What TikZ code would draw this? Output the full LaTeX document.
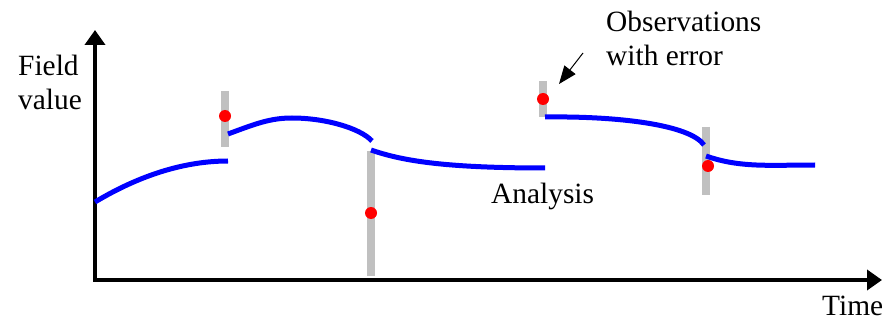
\documentclass[tikz,border=0pt]{standalone}
\usepackage{fontspec}
\setmainfont{Liberation Serif}
\usetikzlibrary{arrows.meta}
\definecolor{barg}{RGB}{192,192,192}
\definecolor{curveb}{RGB}{0,0,255}
\definecolor{dotr}{RGB}{255,0,0}
\tikzset{
  axisline/.style={line width=4pt,-{Triangle[length=15pt,width=20pt]}},
  bar/.style={barg,line width=8pt},
  fc/.style={curveb,line width=5pt},
  obsdot/.style={fill=dotr,draw=none},
  lbl/.style={font=\fontsize{29.4}{34}\selectfont,anchor=base west,inner sep=0pt,align=left},
  pointer/.style={line width=1pt,-{Triangle[length=18pt,width=14pt]}}
}
\begin{document}
\begin{tikzpicture}[x=1pt,y=-1pt]
\useasboundingbox (0,0) rectangle (885,323);
% axes
\coordinate (o) at (95,280);
\coordinate (ytop) at (95,30);
\coordinate (xend) at (882,280);
\draw[axisline] (95,278) -- (ytop);
\draw[axisline] (93,280) -- (xend);
% gray error bars
\draw[bar] (225,91) -- (225,147);
\draw[bar] (371,151) -- (371,276);
\draw[bar] (543,81) -- (543,117);
\draw[bar] (706,127) -- (706,195);
% analysis curves
\draw[fc] (95,202) .. controls (140,175) and (185,161) .. (228,161);
\draw[fc] (228,134) .. controls (255,124) and (270,118) .. (292,118)
  .. controls (325,118) and (360,128) .. (372,141);
\draw[fc] (371,150) .. controls (400,160) and (440,168) .. (545,168);
\draw[fc] (545,117) .. controls (620,116) and (690,125) .. (704,145);
\draw[fc] (706,156) .. controls (740,168) and (770,165) .. (815,165);
% observations
\fill[obsdot] (225,116) circle (6);
\fill[obsdot] (371,213) circle (6);
\fill[obsdot] (543,99) circle (6);
\fill[obsdot] (708,166) circle (6);
% labels
\node[lbl] (field) at (18,110) {Field\\value};
\node[lbl] (analysis) at (491,203) {Analysis};
\node[lbl] (time) at (822,315) {Time};
\node[lbl] (obs) at (606,66) {Observations\\with error};
\coordinate (ptail) at (583,53);
\coordinate (ptip) at (559,84);
\draw[pointer] (ptail) -- (ptip);
\end{tikzpicture}
\end{document}
